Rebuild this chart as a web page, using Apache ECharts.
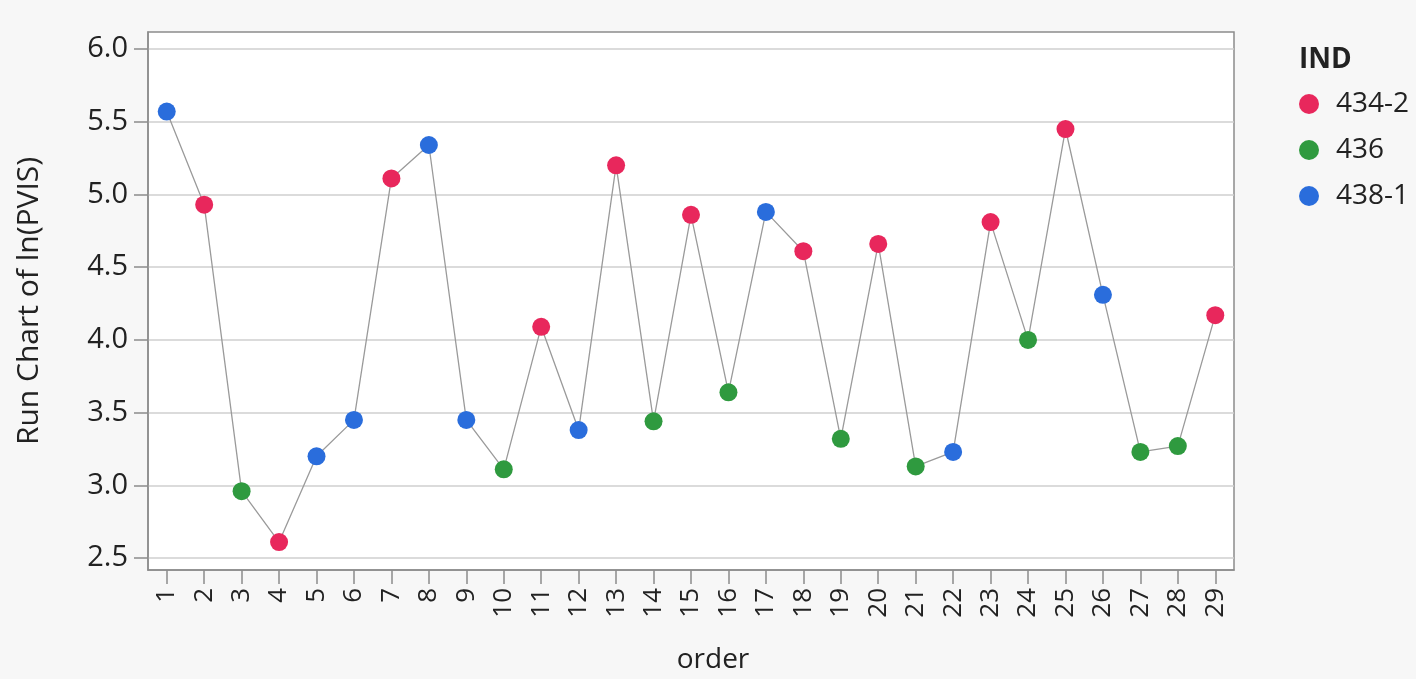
<!DOCTYPE html>
<html>
<head>
<meta charset="utf-8">
<script src="https://cdn.jsdelivr.net/npm/echarts@6/dist/echarts.min.js"></script>
<style>
  html, body { margin: 0; padding: 0; background: #f7f7f7; }
  #chart { width: 1416px; height: 679px; }
</style>
</head>
<body>
<div id="chart"></div>
<script>
// Run order (x categories)
const orders = ['1','2','3','4','5','6','7','8','9','10','11','12','13','14','15',
                '16','17','18','19','20','21','22','23','24','25','26','27','28','29'];
// ln(PVIS) value for each run
const lnPVIS = [5.57, 4.93, 2.96, 2.61, 3.20, 3.45, 5.11, 5.34, 3.45, 3.11,
                4.09, 3.38, 5.20, 3.44, 4.86, 3.64, 4.88, 4.61, 3.32, 4.66,
                3.13, 3.23, 4.81, 4.00, 5.45, 4.31, 3.23, 3.27, 4.17];
// IND group of each run
const indOfRun = ['438-1','434-2','436','434-2','438-1','438-1','434-2','438-1','438-1','436',
                  '434-2','438-1','434-2','436','434-2','436','438-1','434-2','436','434-2',
                  '436','438-1','434-2','436','434-2','438-1','436','436','434-2'];
// Legend groups and their colours
const indGroups = ['434-2', '436', '438-1'];
const indColors = ['#e8275c', '#2f9a3f', '#2a6ddc'];
// Y axis tick values
const yTicks = [2.5, 3.0, 3.5, 4.0, 4.5, 5.0, 5.5, 6.0];

const FONT = '"Open Sans", "Noto Sans", sans-serif';
const TEXT = '#222';

const chart = echarts.init(document.getElementById('chart'), null, { renderer: 'canvas' });

// one scatter series per IND group, placed on the shared run order axis
const groupSeries = indGroups.map((g, gi) => ({
  name: g,
  type: 'scatter',
  symbol: 'circle',
  symbolSize: 18,
  z: 3,
  itemStyle: { color: indColors[gi], opacity: 1 },
  data: lnPVIS.map((v, i) => (indOfRun[i] === g ? v : '-'))
}));

chart.setOption({
  backgroundColor: '#f7f7f7',
  animation: false,
  title: {
    text: 'IND',
    left: 1294,
    top: 41,
    textStyle: { fontFamily: FONT, fontWeight: 'bold', fontSize: 28, color: TEXT }
  },
  legend: {
    data: indGroups,
    orient: 'vertical',
    left: 1294,
    top: 85,
    itemGap: 18,
    itemWidth: 20,
    itemHeight: 20,
    icon: 'circle',
    textStyle: { fontFamily: FONT, fontSize: 28, color: TEXT, padding: [0, 0, 0, 12] }
  },
  grid: {
    left: 148,
    right: 182,
    top: 32,
    bottom: 104,
    show: true,
    backgroundColor: '#ffffff',
    borderColor: '#8c8c8c',
    borderWidth: 1.5
  },
  xAxis: {
    type: 'category',
    data: orders,
    boundaryGap: true,
    name: 'order',
    nameLocation: 'middle',
    nameGap: 76,
    nameTextStyle: { fontFamily: FONT, fontSize: 28, color: TEXT, padding: [0, 0, 0, 44] },
    axisLine: { show: true, lineStyle: { color: '#8c8c8c', width: 1.5 } },
    axisTick: { show: true, alignWithLabel: true, length: 14, lineStyle: { color: '#8c8c8c', width: 1.5 } },
    axisLabel: {
      rotate: 90,
      interval: 0,
      margin: 18,
      fontFamily: FONT,
      fontSize: 26,
      color: TEXT
    },
    splitLine: { show: false }
  },
  yAxis: {
    type: 'value',
    min: 2.418,
    max: 6.117,
    name: 'Run Chart of ln(PVIS)',
    nameLocation: 'middle',
    nameGap: 104,
    nameTextStyle: { fontFamily: FONT, fontSize: 30, color: TEXT },
    axisLine: { show: true, lineStyle: { color: '#8c8c8c', width: 1.5 } },
    axisTick: { show: true, length: 14, customValues: yTicks, lineStyle: { color: '#8c8c8c', width: 1.5 } },
    axisLabel: {
      customValues: yTicks,
      margin: 20,
      fontFamily: FONT,
      fontSize: 29,
      color: TEXT,
      formatter: v => Number(v).toFixed(1)
    },
    splitLine: { show: true, lineStyle: { color: '#cfcfcf', width: 1.5 } }
  },
  series: [
    {
      name: 'run',
      type: 'line',
      data: lnPVIS,
      showSymbol: false,
      symbol: 'none',
      z: 2,
      lineStyle: { color: '#9a9a9a', width: 1.3 },
      silent: true
    },
    ...groupSeries
  ]
});
</script>
</body>
</html>
